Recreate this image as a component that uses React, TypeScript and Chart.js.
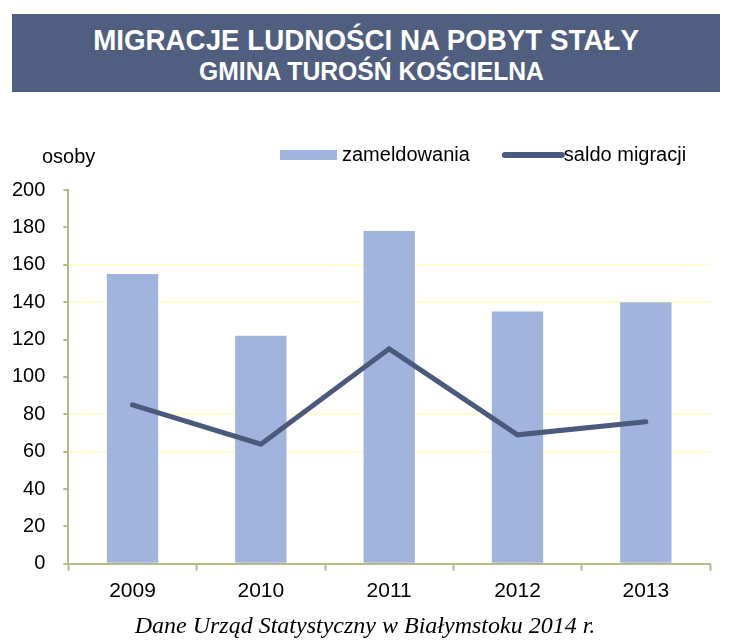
import React, { useEffect, useRef } from "react";
import { Chart, registerables } from "chart.js";

Chart.register(...registerables);

const categories = ["2009", "2010", "2011", "2012", "2013"];
const zameldowania = [155, 122, 178, 135, 140];
const saldoMigracji = [85, 64, 115, 69, 76];
const yTicks = [0, 20, 40, 60, 80, 100, 120, 140, 160, 180, 200];
const faintGridValues = [60, 80, 140, 160];

const FONT = "'Liberation Sans', Arial, sans-serif";
const CANVAS_TOP = 124;

// Custom legend + "osoby" unit label, drawn in the space above the plot.
const headerPlugin = {
  id: "header",
  afterDraw(chart: any) {
    const ctx = chart.ctx;
    const y = 155 - CANVAS_TOP;
    ctx.save();
    ctx.font = `20px ${FONT}`;
    ctx.fillStyle = "#000";
    ctx.textBaseline = "middle";
    ctx.textAlign = "left";
    ctx.fillText("osoby", 42, y + 2);

    let x = 280;
    chart.data.datasets.forEach((d: any) => {
      if (d.type === "line") {
        ctx.strokeStyle = d.borderColor;
        ctx.lineWidth = 6;
        ctx.lineCap = "round";
        ctx.beginPath();
        ctx.moveTo(x + 3, y);
        ctx.lineTo(x + 60, y);
        ctx.stroke();
      } else {
        ctx.fillStyle = d.backgroundColor;
        ctx.fillRect(x, y - 5, 57, 10);
      }
      x += 62;
      ctx.fillStyle = "#000";
      ctx.fillText(d.label, x, y);
      x += ctx.measureText(d.label).width + 32;
    });
    ctx.restore();
  },
};

export default function App() {
  const ref = useRef<HTMLCanvasElement | null>(null);

  useEffect(() => {
    if (!ref.current) return;
    const chart = new Chart(ref.current, {
      type: "bar",
      data: {
        labels: categories,
        datasets: [
          {
            type: "bar",
            label: "zameldowania",
            data: zameldowania,
            backgroundColor: "#A0B4DD",
            borderWidth: 0,
            barPercentage: 0.8,
            categoryPercentage: 0.5,
            order: 2,
          },
          {
            type: "line",
            label: "saldo migracji",
            data: saldoMigracji,
            borderColor: "#4B5A7C",
            backgroundColor: "#4B5A7C",
            borderWidth: 5,
            pointRadius: 0,
            borderCapStyle: "round",
            tension: 0,
            order: 1,
          },
        ],
      } as any,
      options: {
        animation: false,
        responsive: true,
        maintainAspectRatio: false,
        layout: { padding: { left: -6, right: 20, top: 66, bottom: 6 } },
        plugins: {
          tooltip: { enabled: false },
          legend: { display: false },
        },
        scales: {
          x: {
            offset: true,
            grid: {
              offset: true,
              drawOnChartArea: false,
              tickLength: 7,
              tickColor: "#B3BC86",
              tickWidth: 2,
            },
            border: { color: "#B3BC86", width: 2 },
            ticks: {
              font: { family: FONT, size: 21 },
              color: "#000",
              padding: 8,
            },
          },
          y: {
            min: 0,
            max: 200,
            afterBuildTicks: (axis: any) => {
              axis.ticks = yTicks.map((v) => ({ value: v }));
            },
            grid: {
              color: (ctx: any) =>
                ctx.tick && faintGridValues.includes(ctx.tick.value)
                  ? "#FFFFCC"
                  : "rgba(0,0,0,0)",
              lineWidth: 2,
              tickLength: 5,
              tickColor: "#B3BC86",
              tickWidth: 2,
            },
            border: { color: "#B3BC86", width: 2 },
            ticks: {
              font: { family: FONT, size: 20 },
              color: "#000",
              padding: 18,
            },
          },
        },
      } as any,
      plugins: [headerPlugin],
    });
    return () => chart.destroy();
  }, []);

  return (
    <div style={{ position: "absolute", left: 0, top: 0, width: 730, height: 641, background: "#fff", overflow: "hidden" }}>
      <div
        style={{
          position: "absolute",
          left: 12,
          top: 14,
          width: 708,
          height: 78,
          background: "#505F80",
          color: "#fff",
          fontFamily: FONT,
          fontWeight: "bold",
          textAlign: "center",
        }}
      >
        <div style={{ position: "absolute", left: 0, right: 0, top: 9, fontSize: 30, lineHeight: "34px" }}>
          <span style={{ display: "inline-block", transform: "scaleX(0.925)" }}>MIGRACJE LUDNOŚCI NA POBYT STAŁY</span>
        </div>
        <div style={{ position: "absolute", left: 12, right: 0, top: 43, fontSize: 26, lineHeight: "28px" }}>
          <span style={{ display: "inline-block", transform: "scaleX(0.95)" }}>GMINA TUROŚŃ KOŚCIELNA</span>
        </div>
      </div>
      <div style={{ position: "absolute", left: 0, top: CANVAS_TOP, width: 730, height: 494 }}>
        <canvas ref={ref} />
      </div>
      <div
        style={{
          position: "absolute",
          left: 0,
          width: 730,
          top: 611,
          textAlign: "center",
          fontFamily: "'Liberation Serif', 'Times New Roman', serif",
          fontStyle: "italic",
          fontSize: 24,
          lineHeight: "28px",
          color: "#000",
        }}
      >
        Dane Urząd Statystyczny w Białymstoku 2014 r.
      </div>
    </div>
  );
}
